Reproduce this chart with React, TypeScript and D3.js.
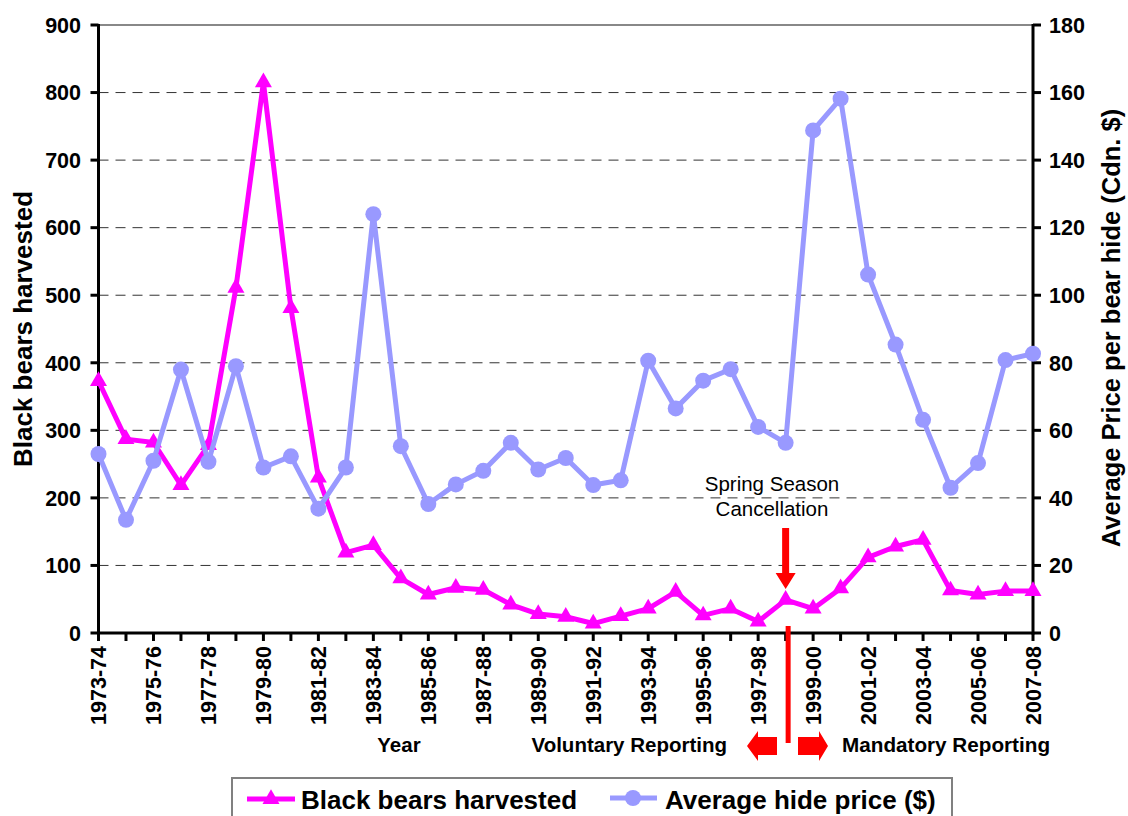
import React from "react";
import * as d3 from "d3";

const seasons = [
  "1973-74","1974-75","1975-76","1976-77","1977-78","1978-79","1979-80","1980-81","1981-82","1982-83",
  "1983-84","1984-85","1985-86","1986-87","1987-88","1988-89","1989-90","1990-91","1991-92","1992-93",
  "1993-94","1994-95","1995-96","1996-97","1997-98","1998-99","1999-00","2000-01","2001-02","2002-03",
  "2003-04","2004-05","2005-06","2006-07","2007-08",
];
const harvested = [373, 287, 282, 219, 278, 511, 815, 481, 230, 119, 130, 81, 57, 67, 64, 42, 28, 24, 14, 25,
  36, 61, 26, 36, 17, 49, 36, 66, 112, 128, 138, 63, 57, 62, 62];
const price = [53, 33.5, 51, 78, 50.7, 79, 49, 52.3, 36.8, 49, 124, 55.3, 38.2, 44, 48, 56.3, 48.4, 51.8, 43.8, 45.2,
  80.6, 66.5, 74.7, 78.1, 61, 56.3, 148.8, 158.2, 106.1, 85.4, 63.1, 43, 50.3, 80.8, 82.7];
const leftTicks = [0, 100, 200, 300, 400, 500, 600, 700, 800, 900];
const rightTicks = [0, 20, 40, 60, 80, 100, 120, 140, 160, 180];

const FONT = "'Liberation Sans', Arial, Helvetica, sans-serif";
const MAGENTA = "#FF00FF";
const BLUE = "#9999FF";
const RED = "#FF0000";

export default function App() {
  const W = 1128, H = 816;
  const x = d3.scalePoint<string>().domain(seasons).range([98.5, 1033]);
  const yL = d3.scaleLinear().domain([0, 900]).range([633, 25]);
  const yR = d3.scaleLinear().domain([0, 180]).range([633, 25]);
  const lineH = d3.line<number>().x((_, i) => x(seasons[i])!).y((d) => yL(d));
  const lineP = d3.line<number>().x((_, i) => x(seasons[i])!).y((d) => yR(d));
  const tri = d3.symbol().type(d3.symbolTriangle).size(125)()!;
  const x0 = 98.5, x1 = 1033, yb = 633, yt = 25;
  const cancelX = x("1998-99")!;
  const splitX = (x("1998-99")! + 2.5);

  return (
    <svg width={W} height={H} style={{ position: "absolute", left: 0, top: 0, background: "#fff" }} fontFamily={FONT}>
      {/* grid */}
      {leftTicks.filter((t) => t > 0 && t < 900).map((t) => (
        <line key={t} x1={x0} x2={x1} y1={yL(t)} y2={yL(t)} stroke="#333" strokeWidth={1} strokeDasharray="10,7" />
      ))}
      <line x1={x0} x2={x1} y1={yt} y2={yt} stroke="#888" strokeWidth={2} />
      {/* axes */}
      <line x1={x0} x2={x0} y1={yt - 1} y2={yb + 1.5} stroke="#000" strokeWidth={3} />
      <line x1={x1} x2={x1} y1={yt - 1} y2={yb + 1.5} stroke="#000" strokeWidth={3} />
      <line x1={x0} x2={x1} y1={yb} y2={yb} stroke="#000" strokeWidth={3} />
      {leftTicks.map((t) => (
        <g key={"l" + t}>
          <line x1={x0 - 8} x2={x0} y1={yL(t)} y2={yL(t)} stroke="#000" strokeWidth={3} />
          <text x={81} y={yL(t)} dy="0.36em" textAnchor="end" fontSize={21.5} fontWeight="bold">{t}</text>
        </g>
      ))}
      {rightTicks.map((t) => (
        <g key={"r" + t}>
          <line x1={x1} x2={x1 + 8} y1={yR(t)} y2={yR(t)} stroke="#000" strokeWidth={3} />
          <text x={1049} y={yR(t)} dy="0.36em" textAnchor="start" fontSize={21.5} fontWeight="bold">{t}</text>
        </g>
      ))}
      {seasons.map((s, i) => (
        <g key={s}>
          <line x1={x(s)} x2={x(s)} y1={yb} y2={yb + 8} stroke="#000" strokeWidth={3} />
          {i % 2 === 0 && (
            <text transform={`translate(${x(s)},646) rotate(-90)`} dy="0.36em" textAnchor="end" fontSize={21.5} fontWeight="bold">{s}</text>
          )}
        </g>
      ))}
      {/* axis titles */}
      <text transform="translate(23,329) rotate(-90)" dy="0.36em" textAnchor="middle" fontSize={26} fontWeight="bold">Black bears harvested</text>
      <text transform="translate(1111,328) rotate(-90)" dy="0.36em" textAnchor="middle" fontSize={25.5} fontWeight="bold">Average Price per bear hide (Cdn. $)</text>

      {/* series */}
      <path d={lineH(harvested)!} fill="none" stroke={MAGENTA} strokeWidth={5} strokeLinejoin="round" />
      {harvested.map((v, i) => (
        <path key={"t" + i} d={tri} transform={`translate(${x(seasons[i])},${yL(v)})`} fill={MAGENTA} />
      ))}
      <path d={lineP(price)!} fill="none" stroke={BLUE} strokeWidth={5} strokeLinejoin="round" />
      {price.map((v, i) => (
        <circle key={"c" + i} cx={x(seasons[i])} cy={yR(v)} r={8} fill={BLUE} />
      ))}

      {/* annotation */}
      <text x={772} y={491} textAnchor="middle" fontSize={20.5}>Spring Season</text>
      <text x={772} y={516} textAnchor="middle" fontSize={20.5}>Cancellation</text>
      <path d={`M${cancelX - 3.5},528 h7 v45 h6.5 l-10,16 l-10,-16 h6.5 z`} fill={RED} />
      <line x1={splitX} x2={splitX} y1={626} y2={743} stroke={RED} strokeWidth={5} />
      <path d="M747,746 L758,731 L758,737 L777,737 L777,755 L758,755 L758,761 Z" fill={RED} />
      <path d="M828,746 L819,731 L819,737 L798,737 L798,755 L819,755 L819,761 Z" fill={RED} />
      <text x={399} y={752} textAnchor="middle" fontSize={20.5} fontWeight="bold">Year</text>
      <text x={727} y={752} textAnchor="end" fontSize={20.5} fontWeight="bold">Voluntary Reporting</text>
      <text x={842} y={752} textAnchor="start" fontSize={20.7} fontWeight="bold">Mandatory Reporting</text>

      {/* legend */}
      <rect x={232} y={778} width={720} height={60} fill="#fff" stroke="#808080" strokeWidth={2} />
      <line x1={247} x2={295} y1={799} y2={799} stroke={MAGENTA} strokeWidth={5} />
      <path d={tri} transform="translate(271,799)" fill={MAGENTA} />
      <text x={301} y={809} fontSize={26} fontWeight="bold">Black bears harvested</text>
      <line x1={610} x2={657} y1={798} y2={798} stroke={BLUE} strokeWidth={5} />
      <circle cx={633} cy={798} r={8} fill={BLUE} />
      <text x={665} y={809} fontSize={26} fontWeight="bold">Average hide price ($)</text>
    </svg>
  );
}
